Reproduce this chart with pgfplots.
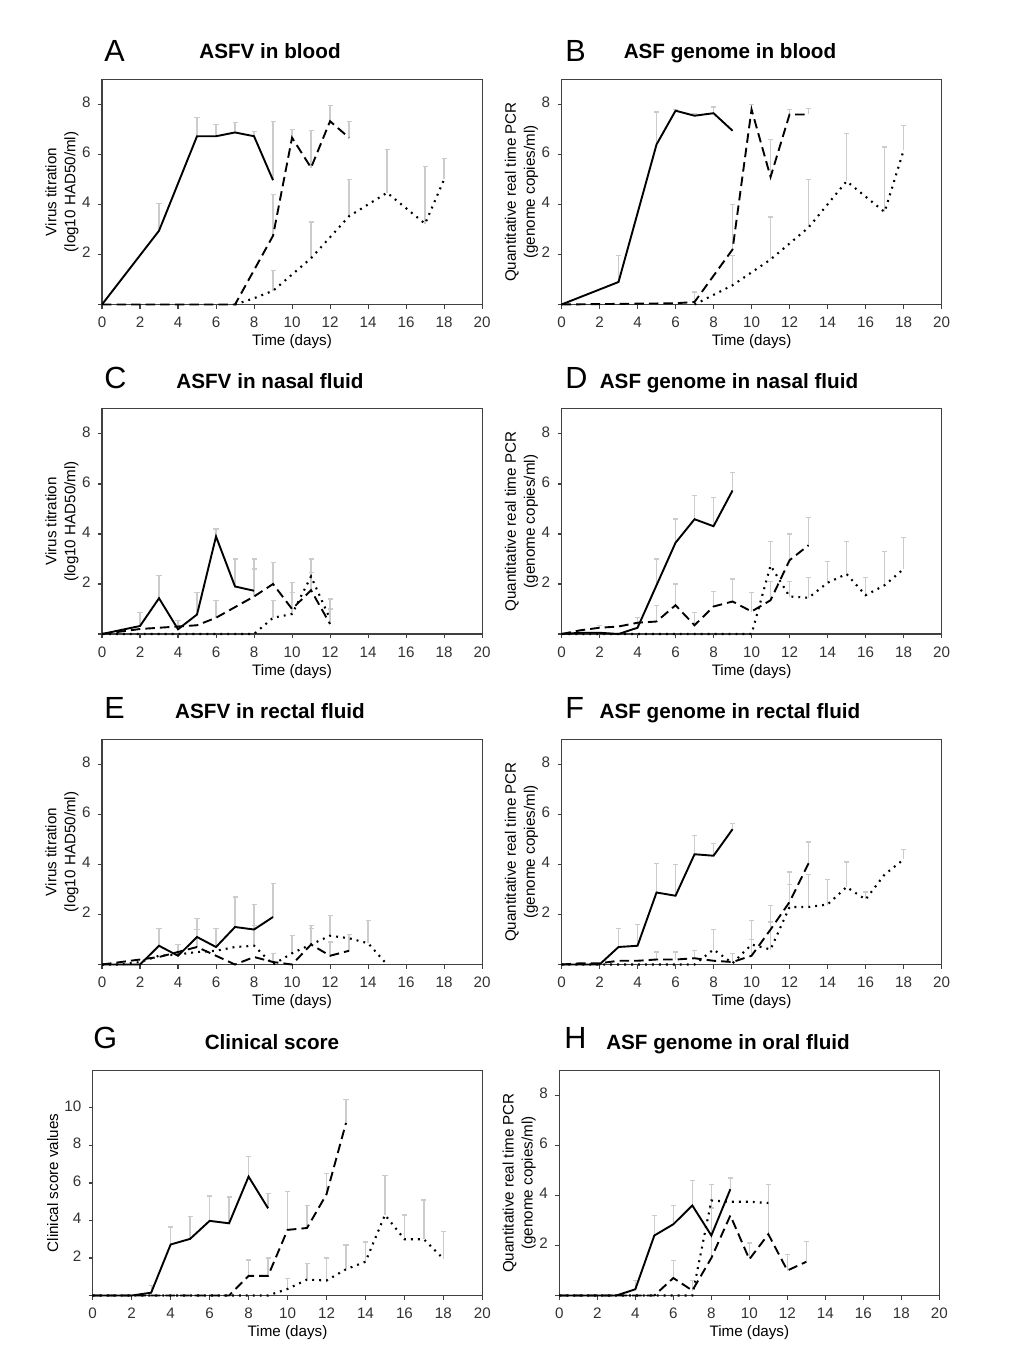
\documentclass[border=0pt]{standalone}
\usepackage{fontspec}
\setmainfont{Liberation Sans}
\usepackage{pgfplots}
\pgfplotsset{compat=1.18}

\newlength\pu
\setlength\pu{0.0166667cm}

\pgfplotsset{
  panel/.style={
    scale only axis, width=6.3333cm, height=3.75cm,
    xmin=0, xmax=20, ymin=0, ymax=9,
    xtick={0,2,...,20}, ytick={0,2,4,6,8}, yticklabels={,2,4,6,8},
    tick align=outside, tick pos=left, major tick length=1.9pt,
    axis line style={black!75, line width=0.5pt},
    every tick/.style={black!75, line width=0.5pt},
    /pgf/number format/assume math mode=true,
    typeset ticklabels with strut,
    tick label style={font=\fontsize{7.2}{8}\selectfont, text=black!80},
    xlabel={Time (days)},
    every axis x label/.style={at={(rel axis cs:0.5,0)}, yshift=-37.5\pu, anchor=center,
      font=\fontsize{7.2}{9}\selectfont},
    every axis y label/.style={at={(rel axis cs:0,0.5)}, xshift=-40\pu, anchor=center,
      rotate=90, align=center, font=\fontsize{7.2}{9}\selectfont},
    clip=false,
  },
  sol/.style={black, line width=0.9pt},
  das/.style={black, line width=0.9pt, dash pattern=on 4.5pt off 2.4pt},
  dot/.style={black, line width=1pt, dash pattern=on 0.9pt off 2.4pt},
  eb/.style={draw=none, mark=none, forget plot,
    error bars/.cd, y dir=plus, y explicit,
    error bar style={draw=black!20, line width=0.6pt, solid},
    error mark options={rotate=90, draw=black!20, line width=0.6pt, mark size=1.2pt, solid}},
}
\newcommand{\vt}{Virus titration\\(log10 HAD50/ml)}
\newcommand{\pcr}{Quantitative real time PCR\\(genome copies/ml)}
\newcommand{\ttl}{\bfseries\fontsize{9.8}{11}\selectfont}
\newcommand{\ltr}{\fontsize{14.5}{15}\selectfont}

\begin{document}
\begin{tikzpicture}[x=\pu, y=-\pu]
\path[use as bounding box] (0,0) rectangle (1020,1354);

% ---------- A ----------
\node[anchor=base west, font=\ltr, inner sep=0pt] at (104,61) {A};
\node[anchor=base, font=\ttl] at (270,58) {ASFV in blood};
\begin{axis}[panel, at={(102\pu,-304.5\pu)}, anchor=south west, ylabel={\vt}]
\addplot[eb] table[y error expr=\thisrow{t}-\thisrow{y}] {
x y t
3 2.95 4.05
5 6.73 7.47
6 6.73 7.2
7 6.88 7.27
8 6.73 6.93
9 4.97 7.33
9 2.75 4.4
10 6.67 7.0
11 5.47 6.95
12 7.33 7.95
13 6.67 7.33
9 0.55 1.36
11 1.85 3.3
13 3.53 5.0
15 4.47 6.2
17 3.23 5.53
18 5.0 5.85
};
\addplot[sol] coordinates {(0,0)(3,2.95)(5,6.73)(6,6.73)(7,6.88)(8,6.73)(9,4.97)};
\addplot[das] coordinates {(0,0)(7,0)(9,2.75)(10,6.67)(11,5.47)(12,7.33)(13,6.67)};
\addplot[dot] coordinates {(7,0)(8,0.25)(9,0.55)(11,1.85)(13,3.53)(15,4.47)(17,3.23)(18,5.0)};
\end{axis}

% ---------- B ----------
\node[anchor=base west, font=\ltr, inner sep=0pt] at (565,61) {B};
\node[anchor=base, font=\ttl] at (730,58) {ASF genome in blood};
\begin{axis}[panel, at={(561.5\pu,-304.5\pu)}, anchor=south west, ylabel={\pcr}]
\addplot[eb] table[y error expr=\thisrow{t}-\thisrow{y}] {
x y t
3 0.9 1.95
5 6.4 7.7
6 7.75 7.8
7 7.55 7.65
8 7.65 7.9
7 0.1 0.5
9 2.2 4.0
10 7.8 8.0
11 5.1 6.6
12 7.6 7.8
13 7.6 7.85
9 0.77 1.95
11 1.8 3.5
13 3.08 5.0
15 4.93 6.85
17 3.7 6.3
18 6.16 7.15
};
\addplot[sol] coordinates {(0,0)(3,0.9)(5,6.4)(6,7.75)(7,7.55)(8,7.65)(9,6.95)};
\addplot[das] coordinates {(0,0)(6,0.05)(7,0.1)(9,2.2)(10,7.8)(11,5.1)(12,7.6)(13,7.6)};
\addplot[dot] coordinates {(7,0)(9,0.77)(11,1.8)(13,3.08)(15,4.93)(17,3.7)(18,6.16)};
\end{axis}

% ---------- C ----------
\node[anchor=base west, font=\ltr, inner sep=0pt] at (104,388) {C};
\node[anchor=base, font=\ttl] at (270,388) {ASFV in nasal fluid};
\begin{axis}[panel, at={(102\pu,-634\pu)}, anchor=south west, ylabel={\vt}]
\addplot[eb] table[y error expr=\thisrow{t}-\thisrow{y}] {
x y t
2 0.32 0.85
3 1.43 2.35
4 0.19 0.55
5 0.78 1.65
6 3.9 4.2
7 1.9 3.0
8 1.73 3.0
6 0.65 1.35
8 1.5 2.6
9 2.0 2.85
10 1.0 2.05
11 1.75 2.45
12 0.4 1.0
9 0.65 1.35
10 0.8 1.65
11 2.3 3.0
12 0.6 1.4
};
\addplot[sol] coordinates {(0,0)(2,0.32)(3,1.43)(4,0.19)(5,0.78)(6,3.9)(7,1.9)(8,1.73)};
\addplot[das] coordinates {(0,0)(2,0.2)(4,0.3)(5,0.35)(6,0.65)(8,1.5)(9,2.0)(10,1.0)(11,1.75)(12,0.4)};
\addplot[dot] coordinates {(0,0)(8,0)(9,0.65)(10,0.8)(11,2.3)(12,0.6)};
\end{axis}

% ---------- D ----------
\node[anchor=base west, font=\ltr, inner sep=0pt] at (565,388) {D};
\node[anchor=base, font=\ttl] at (729,388) {ASF genome in nasal fluid};
\begin{axis}[panel, at={(561.5\pu,-634\pu)}, anchor=south west, ylabel={\pcr}]
\addplot[eb] table[y error expr=\thisrow{t}-\thisrow{y}] {
x y t
4 0.25 0.65
5 1.95 3.0
6 3.65 4.6
7 4.59 5.55
8 4.31 5.45
9 5.74 6.45
2 0.25 0.35
5 0.5 1.15
6 1.15 2.0
7 0.35 0.85
8 1.1 1.7
9 1.3 2.2
10 0.9 1.65
11 1.35 2.1
12 2.95 4.0
13 3.55 4.65
11 2.74 3.7
12 1.5 2.1
13 1.45 2.25
14 2.05 2.9
15 2.4 3.7
16 1.55 2.25
17 1.95 3.3
18 2.6 3.85
};
\addplot[sol] coordinates {(0,0)(1,0.05)(2,0.05)(3,0)(4,0.25)(5,1.95)(6,3.65)(7,4.59)(8,4.31)(9,5.74)};
\addplot[das] coordinates {(0,0)(1,0.15)(2,0.25)(3,0.3)(4,0.45)(5,0.5)(6,1.15)(7,0.35)(8,1.1)(9,1.3)(10,0.9)(11,1.35)(12,2.95)(13,3.55)};
\addplot[dot] coordinates {(0,0)(10,0)(11,2.74)(12,1.5)(13,1.45)(14,2.05)(15,2.4)(16,1.55)(17,1.95)(18,2.6)};
\end{axis}

% ---------- E ----------
\node[anchor=base west, font=\ltr, inner sep=0pt] at (104,718) {E};
\node[anchor=base, font=\ttl] at (270,718) {ASFV in rectal fluid};
\begin{axis}[panel, at={(102\pu,-964.5\pu)}, anchor=south west, ylabel={\vt}]
\addplot[eb] table[y error expr=\thisrow{t}-\thisrow{y}] {
x y t
3 0.75 1.45
4 0.35 0.8
5 1.1 1.85
6 0.7 1.45
7 1.5 2.7
8 1.4 2.4
9 1.9 3.25
5 0.7 1.4
9 0.1 0.45
11 0.8 1.45
12 0.35 0.9
13 0.55 1.2
8 0.75 1.55
10 0.45 1.15
11 0.8 1.55
12 1.15 1.95
14 0.85 1.75
};
\addplot[sol] coordinates {(0,0)(2,0)(3,0.75)(4,0.35)(5,1.1)(6,0.7)(7,1.5)(8,1.4)(9,1.9)};
\addplot[das] coordinates {(0,0)(1,0.1)(2,0.2)(3,0.3)(4,0.5)(5,0.7)(6,0.35)(7,0)(8,0.3)(9,0.1)(10,0)(11,0.8)(12,0.35)(13,0.55)};
\addplot[dot] coordinates {(0,0)(1,0)(2,0.1)(3,0.35)(4,0.4)(5,0.5)(6,0.55)(7,0.7)(8,0.75)(9,0)(10,0.45)(11,0.8)(12,1.15)(13,1.05)(14,0.85)(15,0)};
\end{axis}

% ---------- F ----------
\node[anchor=base west, font=\ltr, inner sep=0pt] at (565,718) {F};
\node[anchor=base, font=\ttl] at (730,718) {ASF genome in rectal fluid};
\begin{axis}[panel, at={(561.5\pu,-964.5\pu)}, anchor=south west, ylabel={\pcr}]
\addplot[eb] table[y error expr=\thisrow{t}-\thisrow{y}] {
x y t
3 0.7 1.45
4 0.75 1.6
5 2.88 4.05
6 2.75 4.0
7 4.41 5.15
8 4.35 4.85
9 5.41 5.65
5 0.2 0.5
6 0.2 0.5
7 0.25 0.55
9 0.1 0.45
10 0.35 1.0
11 1.4 2.35
12 2.5 3.2
13 4.05 4.9
8 0.6 1.4
10 0.8 1.75
11 0.6 1.7
12 2.3 3.7
13 2.3 3.6
14 2.4 3.4
15 3.1 4.1
16 2.6 2.9
18 4.2 4.6
};
\addplot[sol] coordinates {(0,0)(2,0)(3,0.7)(4,0.75)(5,2.88)(6,2.75)(7,4.41)(8,4.35)(9,5.41)};
\addplot[das] coordinates {(0,0)(1,0.05)(2,0.05)(3,0.15)(4,0.15)(5,0.2)(6,0.2)(7,0.25)(8,0.15)(9,0.1)(10,0.35)(11,1.4)(12,2.5)(13,4.05)};
\addplot[dot] coordinates {(0,0)(7,0)(8,0.6)(9,0.05)(10,0.8)(11,0.6)(12,2.3)(13,2.3)(14,2.4)(15,3.1)(16,2.6)(17,3.6)(18,4.2)};
\end{axis}

% ---------- G ----------
\node[anchor=base west, font=\ltr, inner sep=0pt] at (93,1048) {G};
\node[anchor=base, font=\ttl] at (272,1049) {Clinical score};
\begin{axis}[panel, at={(92.7\pu,-1295.5\pu)}, anchor=south west, width=6.4933cm,
  ymax=12, ytick={0,2,...,10}, yticklabels={,2,4,6,8,10}, ylabel={Clinical score values}]
\addplot[eb] table[y error expr=\thisrow{t}-\thisrow{y}] {
x y t
3 0.15 0.55
4 2.72 3.65
5 3.02 4.2
6 3.98 5.3
7 3.85 5.25
8 6.34 7.4
9 4.65 5.45
8 1.05 1.9
9 1.05 2.0
10 3.5 5.55
11 3.6 4.8
12 5.4 6.5
13 9.2 10.45
10 0.35 0.9
11 0.85 1.7
12 0.8 2.0
13 1.4 2.7
14 1.8 2.85
15 4.3 6.4
16 3.0 4.3
17 3.0 5.1
18 1.95 3.4
};
\addplot[sol] coordinates {(0,0)(2,0)(3,0.15)(4,2.72)(5,3.02)(6,3.98)(7,3.85)(8,6.34)(9,4.65)};
\addplot[das] coordinates {(0,0)(7,0)(8,1.05)(9,1.05)(10,3.5)(11,3.6)(12,5.4)(13,9.2)};
\addplot[dot] coordinates {(0,0)(9,0)(10,0.35)(11,0.85)(12,0.8)(13,1.4)(14,1.8)(15,4.3)(16,3.0)(17,3.0)(18,1.95)};
\end{axis}

% ---------- H ----------
\node[anchor=base west, font=\ltr, inner sep=0pt] at (564,1048) {H};
\node[anchor=base, font=\ttl] at (728,1049) {ASF genome in oral fluid};
\begin{axis}[panel, at={(559.3\pu,-1295.5\pu)}, anchor=south west, ylabel={\pcr}]
\addplot[eb] table[y error expr=\thisrow{t}-\thisrow{y}] {
x y t
4 0.25 0.6
5 2.4 3.2
6 2.85 3.6
7 3.6 4.6
8 2.4 3.5
9 4.25 4.7
6 0.7 1.4
7 0.2 0.6
8 1.5 4.45
10 1.45 2.1
11 2.45 4.45
12 1.0 1.65
13 1.35 2.15
};
\addplot[sol] coordinates {(0,0)(3,0)(4,0.25)(5,2.4)(6,2.85)(7,3.6)(8,2.4)(9,4.25)};
\addplot[das] coordinates {(0,0)(5,0)(6,0.7)(7,0.2)(8,1.5)(9,3.2)(10,1.45)(11,2.45)(12,1.0)(13,1.35)};
\addplot[dot] coordinates {(0,0)(7,0)(8,3.8)(9,3.75)(10,3.75)(11,3.7)};
\end{axis}
\end{tikzpicture}
\end{document}
